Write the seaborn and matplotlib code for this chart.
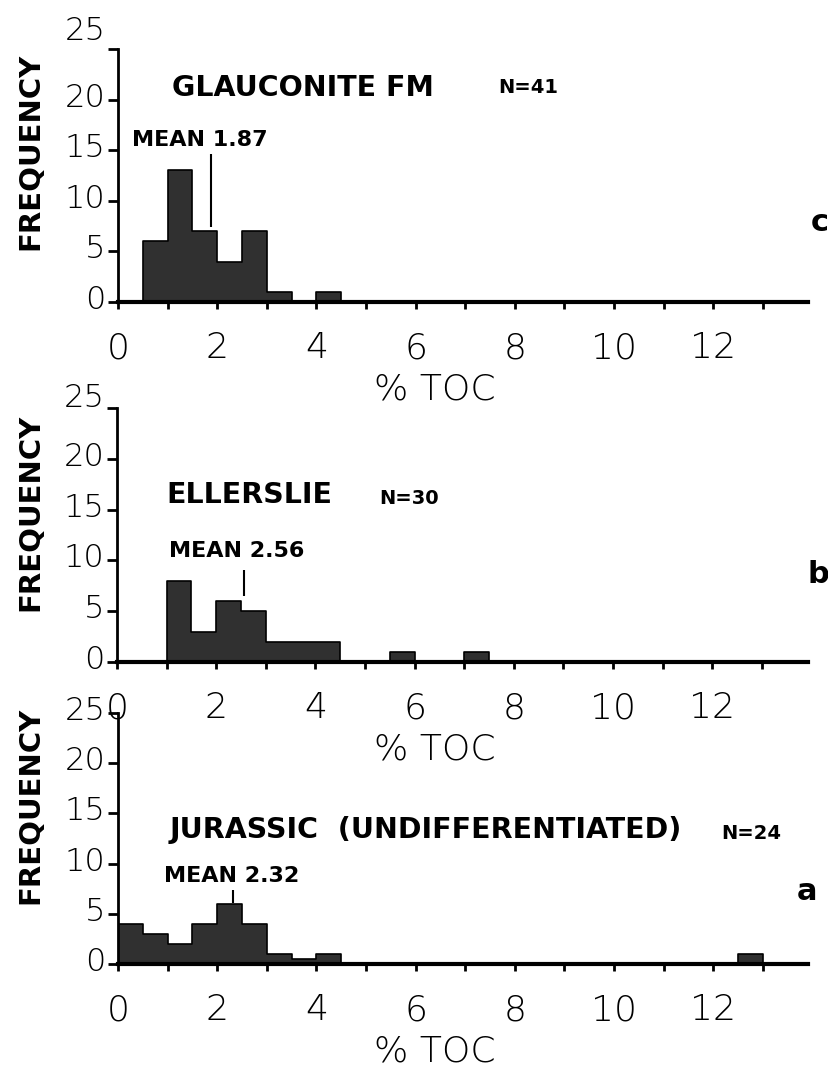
import numpy as np
import matplotlib
matplotlib.use("Agg")
import matplotlib.pyplot as plt
import matplotlib.transforms as mtransforms
import seaborn as sns

# ---------------- data ----------------
bin_width = 0.5
x_tick_values = list(range(0, 14))
x_tick_labels = ["0", "", "2", "", "4", "", "6", "", "8", "", "10", "", "12", ""]
y_tick_values = [0, 5, 10, 15, 20, 25]
y_tick_labels = ["0", "5", "10", "15", "20", "25"]

glauc_bin_left = [0.5, 1.0, 1.5, 2.0, 2.5, 3.0, 4.0]
glauc_counts = [6, 13, 7, 4, 7, 1, 1]
glauc_mean = 1.87
glauc_n = 41

eller_bin_left = [1.0, 1.5, 2.0, 2.5, 3.0, 3.5, 4.0, 5.5, 7.0]
eller_counts = [8, 3, 6, 5, 2, 2, 2, 1, 1]
eller_mean = 2.56
eller_n = 30

jur_bin_left = [0.0, 0.5, 1.0, 1.5, 2.0, 2.5, 3.0, 3.5, 4.0, 12.5]
jur_counts = [4, 3, 2, 4, 6, 4, 1, 0.5, 1, 1]
jur_mean = 2.32
jur_n = 24

titles = ["GLAUCONITE FM", "ELLERSLIE", "JURASSIC  (UNDIFFERENTIATED)"]
panel_letters = ["c", "b", "a"]
x_label = "% TOC"
y_label = "FREQUENCY"

# ---------------- style ----------------
sns.set_theme(style="ticks")
plt.rcParams["font.family"] = ["DejaVu Sans"]
plt.rcParams["text.color"] = "black"
plt.rcParams["axes.labelcolor"] = "black"
plt.rcParams["xtick.color"] = "black"
plt.rcParams["ytick.color"] = "black"
DIGIT_FONT = dict(family=["DejaVu Sans"], weight="light")
BOLD_FONT = dict(family=["DejaVu Sans"], weight="bold")
BAR_COLOR = "#303030"

fig = plt.figure(figsize=(8.29, 10.74), dpi=100)
W, H = 829, 1074

# axes rectangles in pixels: left, baseline, top
panel_px = [(118, 302, 49), (117, 662, 408), (118, 964, 713)]
right_px = 808
px_per_unit = 49.6

# text layout (data coords)
layout = [
    dict(title=(1.09, 21.1), n=(7.66, 21.2), mean_txt=(0.28, 16.0), mean_span=(7.4, 14.6),
         letter=(14.15, 7.9), ylab_y=0.597, top_lift=0.16),
    dict(title=(0.99, 16.4), n=(5.28, 16.1), mean_txt=(1.05, 10.9), mean_span=(6.5, 9.05),
         letter=(14.15, 8.6), ylab_y=0.587, top_lift=0.08),
    dict(title=(1.03, 13.3), n=(12.16, 12.95), mean_txt=(0.93, 8.8), mean_span=(6.1, 7.4),
         letter=(13.9, 7.2), ylab_y=0.63, top_lift=0.0),
]

panels = [
    (glauc_bin_left, glauc_counts, glauc_mean, glauc_n),
    (eller_bin_left, eller_counts, eller_mean, eller_n),
    (jur_bin_left, jur_counts, jur_mean, jur_n),
]

for i, ((left, counts, mean, n), (lx, base, top)) in enumerate(zip(panels, panel_px)):
    rect = [lx / W, 1 - base / H, (right_px - lx) / W, (base - top) / H]
    ax = fig.add_axes(rect)
    ax.patch.set_visible(False)
    lay = layout[i]

    centers = np.asarray(left) + bin_width / 2
    sns.histplot(x=centers, weights=counts, binwidth=bin_width, binrange=(0, 14),
                 element="step", fill=True, color=BAR_COLOR, alpha=1.0,
                 edgecolor="black", linewidth=1.2, ax=ax)

    ax.set_xlim(0, (right_px - lx) / px_per_unit)
    ax.set_ylim(0, 25)

    for side in ("top", "right"):
        ax.spines[side].set_visible(False)
    ax.spines["left"].set_linewidth(2.0)
    ax.spines["bottom"].set_linewidth(3.0)
    ax.spines["left"].set_color("black")
    ax.spines["bottom"].set_color("black")

    ax.set_xticks(x_tick_values)
    ax.set_xticklabels(x_tick_labels, fontsize=26, color="black", **DIGIT_FONT)
    ax.set_yticks(y_tick_values)
    ax.set_yticklabels(y_tick_labels, fontsize=23, color="black", **DIGIT_FONT)
    ax.tick_params(axis="x", direction="out", length=5, width=2, pad=16, colors="black")
    ax.tick_params(axis="y", direction="out", length=7, width=2, pad=2, colors="black")
    ylabels = ax.get_yticklabels()
    for k, lab in enumerate(ylabels):
        lift = 0.05 + (lay["top_lift"] if k == len(ylabels) - 1 else 0.0)
        offset = mtransforms.ScaledTranslation(0, lift, fig.dpi_scale_trans)
        lab.set_transform(lab.get_transform() + offset)

    ax.set_xlabel(x_label, fontsize=26, color="black", **DIGIT_FONT)
    ax.xaxis.set_label_coords((435 - lx) / (right_px - lx), -88 / (base - top))
    ax.xaxis.label.set_va("center")
    ax.set_ylabel(y_label, fontsize=21, color="black", **BOLD_FONT)
    ax.yaxis.set_label_coords((30 - lx) / (right_px - lx), lay["ylab_y"])
    ax.yaxis.label.set_va("center")

    ax.text(*lay["title"], titles[i], fontsize=20.5, ha="left", va="center", color="black", **BOLD_FONT)
    ax.text(*lay["n"], f"N={n}", fontsize=14, ha="left", va="center", color="black", **BOLD_FONT)
    ax.text(*lay["mean_txt"], f"MEAN {mean:.2f}", fontsize=16, ha="left", va="center",
            color="black", **BOLD_FONT)
    ax.vlines(mean, *lay["mean_span"], color="black", linewidth=1.5)
    ax.text(*lay["letter"], panel_letters[i], fontsize=22, ha="center", va="center",
            clip_on=False, color="black", **BOLD_FONT)

fig.savefig("out.png", dpi=100, facecolor="white")
